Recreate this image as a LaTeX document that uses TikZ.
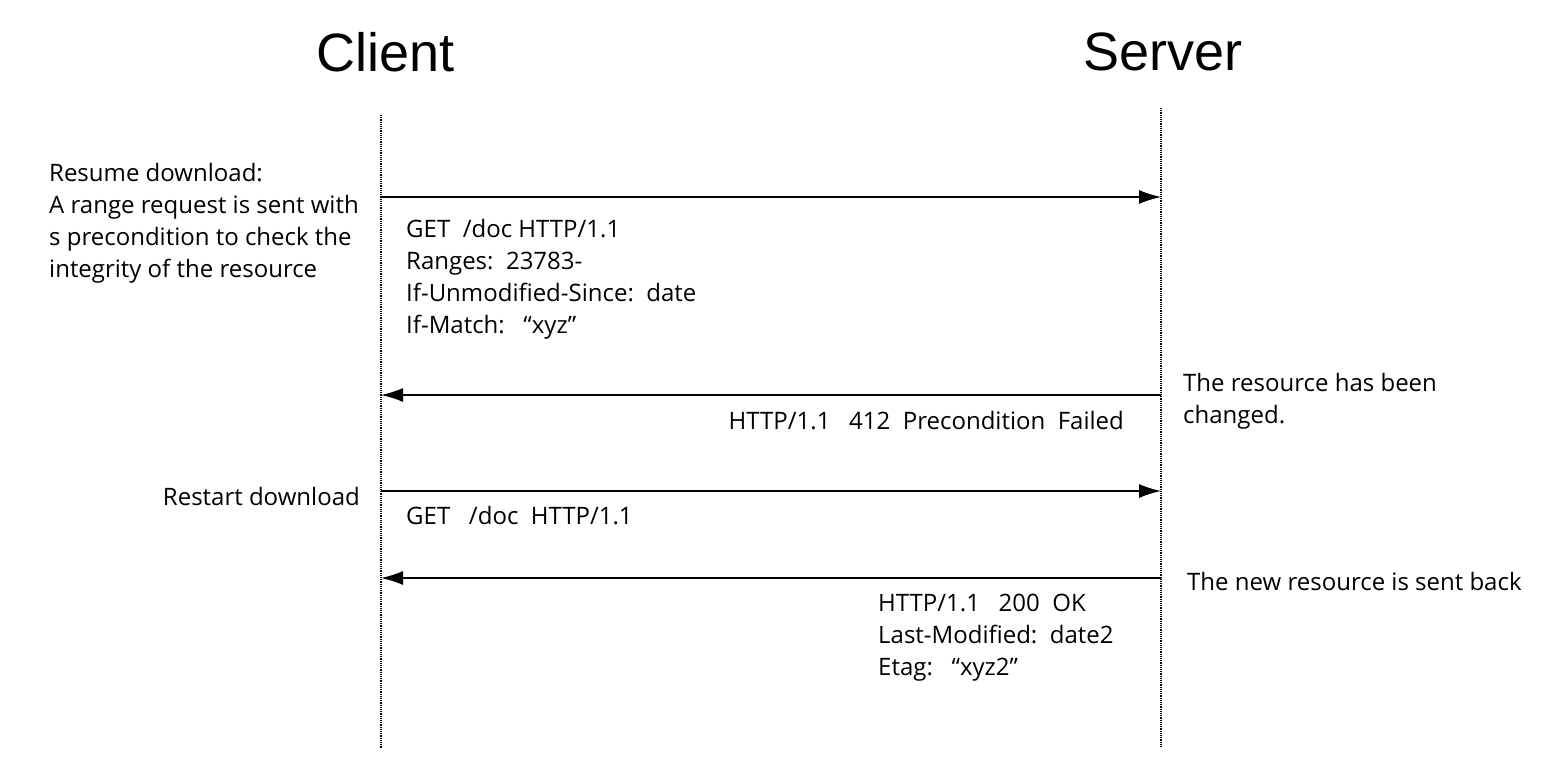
\documentclass[tikz,border=0pt]{standalone}
\usepackage{fontspec}
\setmainfont{Open Sans}
\newfontfamily\titlefont{Liberation Sans}
\usetikzlibrary{arrows.meta}
\begin{document}
\begin{tikzpicture}[x=1pt,y=-1pt,
  life/.style={densely dotted,line width=1.2pt},
  msg/.style={line width=1.4pt,-{Latex[length=22pt,width=14pt]}},
  txt/.style={font=\fontsize{24}{32}\selectfont,inner sep=0pt,align=left},
  ttl/.style={font=\titlefont\fontsize{54}{60}\selectfont,inner sep=0pt}]
\useasboundingbox (0,0) rectangle (1554,779);
\node[ttl] (client) at (386,52) {Client};
\node[ttl] (server) at (1163,52) {Server};
\coordinate (ct) at (381,115); \coordinate (cb) at (381,748);
\coordinate (st) at (1161,108); \coordinate (sb) at (1161,748);
\draw[life] (ct) -- (cb);
\draw[life] (st) -- (sb);
\coordinate (c1) at (381,197); \coordinate (s1) at (1161,197);
\coordinate (c2) at (381,395); \coordinate (s2) at (1161,395);
\coordinate (c3) at (381,491); \coordinate (s3) at (1161,491);
\coordinate (c4) at (381,578); \coordinate (s4) at (1161,578);
\draw[msg] (c1) -- (s1);
\draw[msg] (s2) -- (c2);
\draw[msg] (c3) -- (s3);
\draw[msg] (s4) -- (c4);
\node[txt,anchor=north west] (n1) at (49,163) {Resume download:\\A range request is sent with\\s precondition to check the\\integrity of the resource};
\node[txt,anchor=north west] (n2) at (406,219) {GET\ \ /doc HTTP/1.1\\Ranges:\ \ 23783-\\If-Unmodified-Since:\ \ date\\If-Match:\ \ \ “xyz”};
\node[txt,anchor=east] (n3) at (1124,421) {HTTP/1.1\ \ \ 412\ \ Precondition\ \ Failed};
\node[txt,anchor=north west] (n4) at (1183,373) {The resource has been\\changed.};
\node[txt,anchor=east] (n5) at (360,496) {Restart download};
\node[txt,anchor=west] (n6) at (406,516) {GET\ \ \ /doc\ \ HTTP/1.1};
\node[txt,anchor=west] (n7) at (1187,581) {The new resource is sent back};
\node[txt,anchor=north west] (n8) at (878,594) {HTTP/1.1\ \ \ 200\ \ OK\\Last-Modified:\ \ date2\\Etag:\ \ \ “xyz2”};
\end{tikzpicture}
\end{document}
